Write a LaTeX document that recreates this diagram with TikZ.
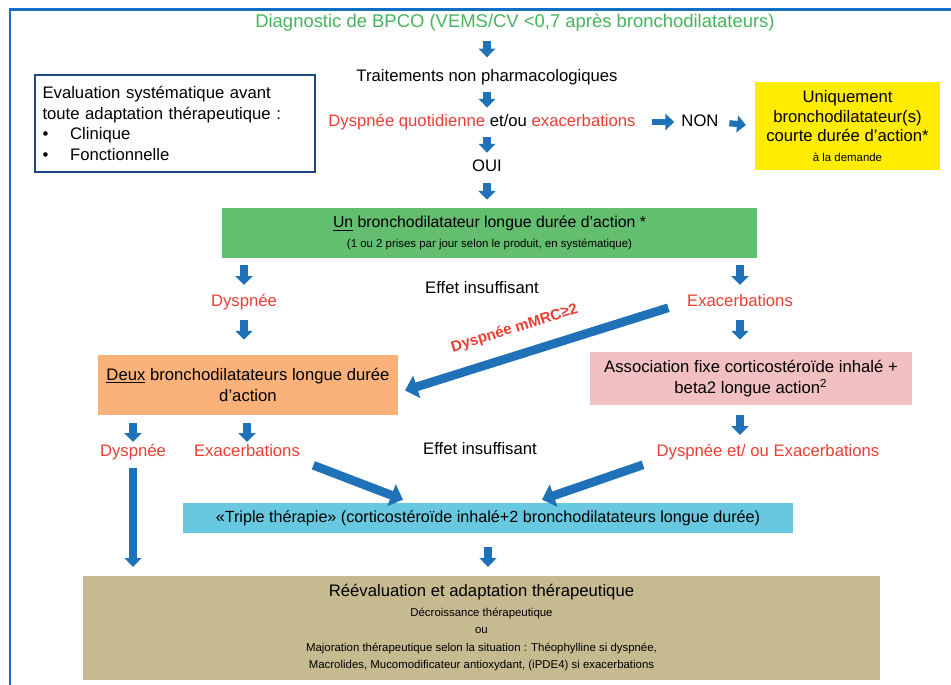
\documentclass[tikz,border=0pt]{standalone}
\usepackage{fontspec}
\setmainfont{Liberation Sans}
\usetikzlibrary{arrows.meta,calc}

\definecolor{flowblue}{RGB}{31,114,184}
\definecolor{frameblue}{RGB}{20,112,196}
\definecolor{evalblue}{RGB}{30,72,130}
\definecolor{titlegreen}{RGB}{70,180,92}
\definecolor{alertred}{RGB}{232,62,52}
\definecolor{shortyellow}{RGB}{255,236,0}
\definecolor{longgreen}{RGB}{100,190,112}
\definecolor{dualorange}{RGB}{250,178,122}
\definecolor{assocpink}{RGB}{242,192,192}
\definecolor{triplecyan}{RGB}{104,200,224}
\definecolor{reevaltan}{RGB}{198,186,144}

\tikzset{
	txt/.style={inner sep=0pt, text height=7pt, text depth=2pt, font=\fontsize{9.5}{11.3}\selectfont},
	redtxt/.style={txt, text=alertred},
	box/.style={inner sep=0pt, align=center, font=\fontsize{9.5}{12.4}\selectfont},
	flowarr/.style={draw=flowblue, line width=4pt, -{Triangle[width=9.5pt,length=5pt]}},
	bigarr/.style={draw=flowblue, line width=5pt, -{Triangle[width=13pt,length=7pt]}},
}

\newcommand{\smalltxt}{\fontsize{6.5}{10}\selectfont}

\begin{document}
\begin{tikzpicture}[x=0.02cm,y=-0.02cm]
	\useasboundingbox (0,0) rectangle (951,685);
	\draw[frameblue, line width=1.7pt] (10,685) -- (10,10) -- (951,10);

	% main column
	\node[txt, text=titlegreen, font=\fontsize{10.5}{12}\selectfont] (title) at (515, 23) {Diagnostic de BPCO (VEMS/CV <0,7 après bronchodilatateurs)};
	\node[txt] (trait) at (487, 77)  {Traitements non pharmacologiques};
	\node[redtxt] (dysq) at (482, 122) {Dyspnée quotidienne \textcolor{black}{et/ou} exacerbations};
	\node[txt] (non) at (700, 122) {NON};
	\node[txt] (oui) at (487, 167) {OUI};

	\node[box, fill=shortyellow, minimum width=3.7cm, minimum height=1.76cm, font=\fontsize{9.5}{11.3}\selectfont] (court) at (847.5, 126)
		{Uniquement\\bronchodilatateur(s)\\courte durée d'action*\\{\smalltxt à la demande}};
	\node[box, draw=evalblue, line width=1.2pt, fill=white, minimum width=5.6cm, minimum height=1.94cm, align=left, text width=5.3cm, font=\fontsize{9.5}{11.6}\selectfont] (evalbox) at (175, 123.5)
		{Evaluation systématique avant\\toute adaptation thérapeutique :\\\textbullet\hspace{1.3em}Clinique\\\textbullet\hspace{1.3em}Fonctionnelle};

	\node[box, fill=longgreen, minimum width=10.7cm, minimum height=1cm, font=\fontsize{9}{11.3}\selectfont] (lama) at (489.5, 233)
		{\underline{Un} bronchodilatateur longue durée d'action *\\{\smalltxt (1 ou 2 prises par jour selon le produit, en systématique)}};

	\node[redtxt] (dysA) at (244, 302) {Dyspnée};
	\node[txt] (effetA) at (482, 289) {Effet insuffisant};
	\node[redtxt] (exacA) at (740, 302) {Exacerbations};

	\node[box, fill=dualorange, minimum width=6cm, minimum height=1.2cm] (dblbd) at (248, 385)
		{\underline{Deux} bronchodilatateurs longue durée\\d'action};
	\node[box, fill=assocpink, minimum width=6.44cm, minimum height=1.06cm] (assoc) at (751, 378.5)
		{Association fixe corticostéroïde inhalé +\\beta2 longue action\textsuperscript{2}};

	\node[redtxt] (dysB) at (133, 452) {Dyspnée};
	\node[redtxt] (exacB) at (247, 452) {Exacerbations};
	\node[txt] (effetB) at (480, 450) {Effet insuffisant};
	\node[redtxt] (dysexB) at (768, 452) {Dyspnée et/ ou Exacerbations};

	\node[box, fill=triplecyan, minimum width=12.2cm, minimum height=0.6cm, font=\fontsize{9.2}{11}\selectfont] (triple) at (488, 518)
		{«Triple thérapie» (corticostéroïde inhalé+2 bronchodilatateurs longue durée)};

	\node[box, fill=reevaltan, minimum width=15.94cm, minimum height=2.08cm, font=\fontsize{6.5}{10}\selectfont] (reeval) at (481.5, 628)
		{{\fontsize{9.5}{12}\selectfont Réévaluation et adaptation thérapeutique}\\[1pt]Décroissance thérapeutique\\ou\\Majoration thérapeutique selon la situation : Théophylline si dyspnée,\\Macrolides, Mucomodificateur antioxydant, (iPDE4) si exacerbations};

	% arrows
	\draw[flowarr, shorten <=5.5pt, shorten >=6.5pt] (title.south -| trait.north) -- (trait.north);
	\draw[flowarr, shorten <=4pt, shorten >=3.5pt] (trait.south) -- (trait.south |- dysq.north);
	\draw[flowarr, shorten <=4pt, shorten >=3.5pt] (dysq.south -| oui.north) -- (oui.north);
	\draw[flowarr, shorten <=4.5pt, shorten >=4.5pt] (oui.south) -- (oui.south |- lama.north);
	\draw[flowarr, line width=3.5pt, shorten <=9pt, shorten >=4pt] (dysq.east) -- (non.west);
	\draw[flowarr, line width=3.5pt, shorten <=6pt, shorten >=5pt] (non.east) -- (court.west);

	\draw[flowarr, shorten <=4pt, shorten >=5pt] (lama.south -| dysA.north) -- (dysA.north);
	\draw[flowarr, shorten <=4pt, shorten >=5pt] (lama.south -| exacA.north) -- (exacA.north);
	\draw[flowarr, shorten <=5.5pt, shorten >=8.5pt] (dysA.south) -- (dysA.south |- dblbd.north);
	\draw[flowarr, shorten <=5.5pt, shorten >=6.8pt] (exacA.south) -- (exacA.south |- assoc.north);
	\draw[bigarr, shorten <=11pt, shorten >=1pt] (exacA.west) -- ($(dblbd.east)+(5,6)$)
		node[pos=0.58, sloped, above=5pt, text=alertred, font=\bfseries\fontsize{8.6}{10}\selectfont] {Dyspnée mMRC≥2};

	\draw[flowarr, shorten <=4.5pt, shorten >=1pt] (dblbd.south -| dysB.north) -- (dysB.north);
	\draw[flowarr, shorten <=4.5pt, shorten >=1pt] (dblbd.south -| exacB.north) -- (exacB.north);
	\draw[flowarr, shorten <=5.5pt, shorten >=5pt] (assoc.south -| exacA.south) -- (dysexB.north -| exacA.south);
	\draw[flowarr, shorten <=4.5pt, shorten >=5pt] (dysB.south) -- (dysB.south |- reeval.north);
	\draw[bigarr, shorten <=8pt] (exacB.south east) -- ($(triple.north)+(-85,-3)$);
	\draw[bigarr, shorten <=8pt] (dysexB.south west) -- ($(triple.north)+(54,-3)$);
	\draw[flowarr, shorten <=8pt, shorten >=5pt] (triple.south) -- (triple.south |- reeval.north);

\end{tikzpicture}
\end{document}
